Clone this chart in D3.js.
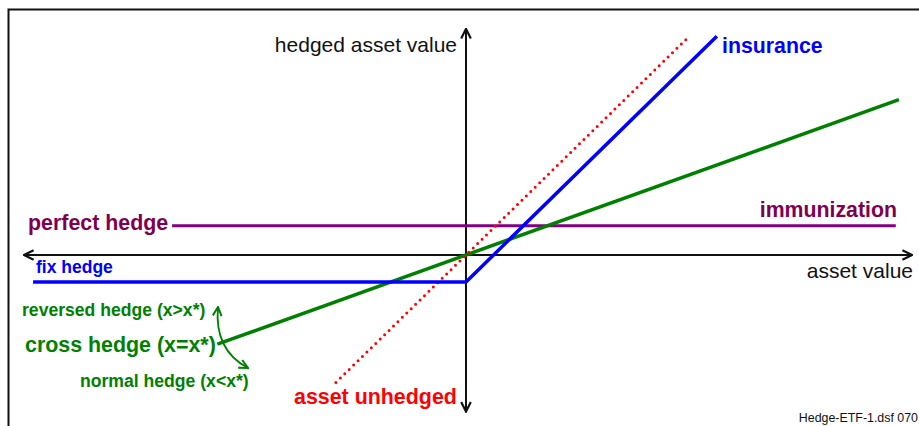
<!DOCTYPE html>
<html>
<head>
<meta charset="utf-8">
<script src="https://cdn.jsdelivr.net/npm/d3@7"></script>
<style>
  body { margin: 0; background: #fff; }
  svg { display: block; font-family: "Liberation Sans", Arial, sans-serif; }
</style>
</head>
<body>
<svg id="chart" width="919" height="426"></svg>
<script>
// payoff lines in asset-value units (origin = where the axes cross)
const unhedged = [[-2.93, -2.93], [4.95, 4.95]];
const insurance = [[-9.75, -0.62], [0, -0.62], [5.65, 5.03]];
const crossHedge = [[-5.6, -2.05], [9.75, 3.57]];
const perfectHedge = [[-6.62, 0.67], [9.68, 0.67]];
const xExtent = [-10, 10];
const yExtent = [-3.6, 5.2];

const svg = d3.select("#chart");
const width = 919, height = 426;

const x = d3.scaleLinear().domain(xExtent).range([22, 910]);
const y = d3.scaleLinear().domain(yExtent).range([411.6, 28.8]);
const line = d3.line().x((d) => x(d[0])).y((d) => y(d[1]));

// frame
svg
  .append("rect")
  .attr("x", 8.5)
  .attr("y", 9.5)
  .attr("width", width)
  .attr("height", height)
  .attr("fill", "none")
  .attr("stroke", "#111")
  .attr("stroke-width", 2);

// open arrowheads
const defs = svg.append("defs");
function arrowMarker(id, color, size) {
  defs
    .append("marker")
    .attr("id", id)
    .attr("viewBox", "0 0 10 10")
    .attr("refX", 9)
    .attr("refY", 5)
    .attr("markerUnits", "userSpaceOnUse")
    .attr("markerWidth", size)
    .attr("markerHeight", size)
    .attr("orient", "auto-start-reverse")
    .append("path")
    .attr("d", "M 1 1 L 9 5 L 1 9")
    .attr("fill", "none")
    .attr("stroke", color)
    .attr("stroke-width", 1.8);
}
arrowMarker("axisArrow", "#111", 12);
arrowMarker("greenArrow", "#008000", 11);

// axes
svg
  .append("line")
  .attr("x1", x(xExtent[0]) + 2)
  .attr("x2", x(xExtent[1]) + 2)
  .attr("y1", y(0))
  .attr("y2", y(0))
  .attr("stroke", "#111")
  .attr("stroke-width", 2)
  .attr("marker-start", "url(#axisArrow)")
  .attr("marker-end", "url(#axisArrow)");

svg
  .append("line")
  .attr("x1", x(0))
  .attr("x2", x(0))
  .attr("y1", y(yExtent[0]))
  .attr("y2", y(yExtent[1]))
  .attr("stroke", "#111")
  .attr("stroke-width", 2)
  .attr("marker-start", "url(#axisArrow)")
  .attr("marker-end", "url(#axisArrow)");

// payoff lines
svg
  .append("path")
  .attr("d", line(perfectHedge))
  .attr("stroke", "#800080")
  .attr("stroke-width", 3)
  .attr("fill", "none");

svg
  .append("path")
  .attr("d", line(crossHedge))
  .attr("stroke", "#008000")
  .attr("stroke-width", 3.5)
  .attr("fill", "none");

svg
  .append("path")
  .attr("d", line(unhedged))
  .attr("stroke", "#ff0000")
  .attr("stroke-width", 3)
  .attr("stroke-linecap", "round")
  .attr("stroke-dasharray", "0 6.2")
  .attr("fill", "none");

svg
  .append("path")
  .attr("d", line(insurance))
  .attr("stroke", "#0000ff")
  .attr("stroke-width", 3.5)
  .attr("fill", "none");

// curved arrow at the cross hedge point
svg
  .append("path")
  .attr("d", "M218,307 Q214,350 248,368")
  .attr("stroke", "#008000")
  .attr("stroke-width", 1.8)
  .attr("fill", "none")
  .attr("marker-start", "url(#greenArrow)")
  .attr("marker-end", "url(#greenArrow)");

// labels
const labels = [
  { t: "hedged asset value", x: 457, y: 52, size: 21, color: "#111", weight: "normal", anchor: "end" },
  { t: "asset value", x: 913, y: 278, size: 21, color: "#111", weight: "normal", anchor: "end" },
  { t: "insurance", x: 722, y: 53, size: 21.3, color: "#0000ff", weight: "bold", anchor: "start" },
  { t: "immunization", x: 897, y: 217, size: 21.3, color: "#800050", weight: "bold", anchor: "end" },
  { t: "perfect hedge", x: 28, y: 230, size: 21.4, color: "#800050", weight: "bold", anchor: "start" },
  { t: "fix hedge", x: 36, y: 273, size: 17.5, color: "#0000ff", weight: "bold", anchor: "start" },
  { t: "reversed hedge (x>x*)", x: 22, y: 316, size: 17.6, color: "#008000", weight: "bold", anchor: "start" },
  { t: "cross hedge (x=x*)", x: 25, y: 352, size: 21.4, color: "#008000", weight: "bold", anchor: "start" },
  { t: "normal hedge (x<x*)", x: 80, y: 387, size: 17.6, color: "#008000", weight: "bold", anchor: "start" },
  { t: "asset unhedged", x: 294, y: 404, size: 21.4, color: "#ff0000", weight: "bold", anchor: "start" },
  { t: "Hedge-ETF-1.dsf 070", x: 918, y: 422, size: 12.4, color: "#111", weight: "normal", anchor: "end" }
];

svg
  .selectAll("text.label")
  .data(labels)
  .join("text")
  .attr("class", "label")
  .attr("x", (d) => d.x)
  .attr("y", (d) => d.y)
  .attr("font-size", (d) => d.size + "px")
  .attr("font-weight", (d) => d.weight)
  .attr("fill", (d) => d.color)
  .attr("text-anchor", (d) => d.anchor)
  .text((d) => d.t);
</script>
</body>
</html>
